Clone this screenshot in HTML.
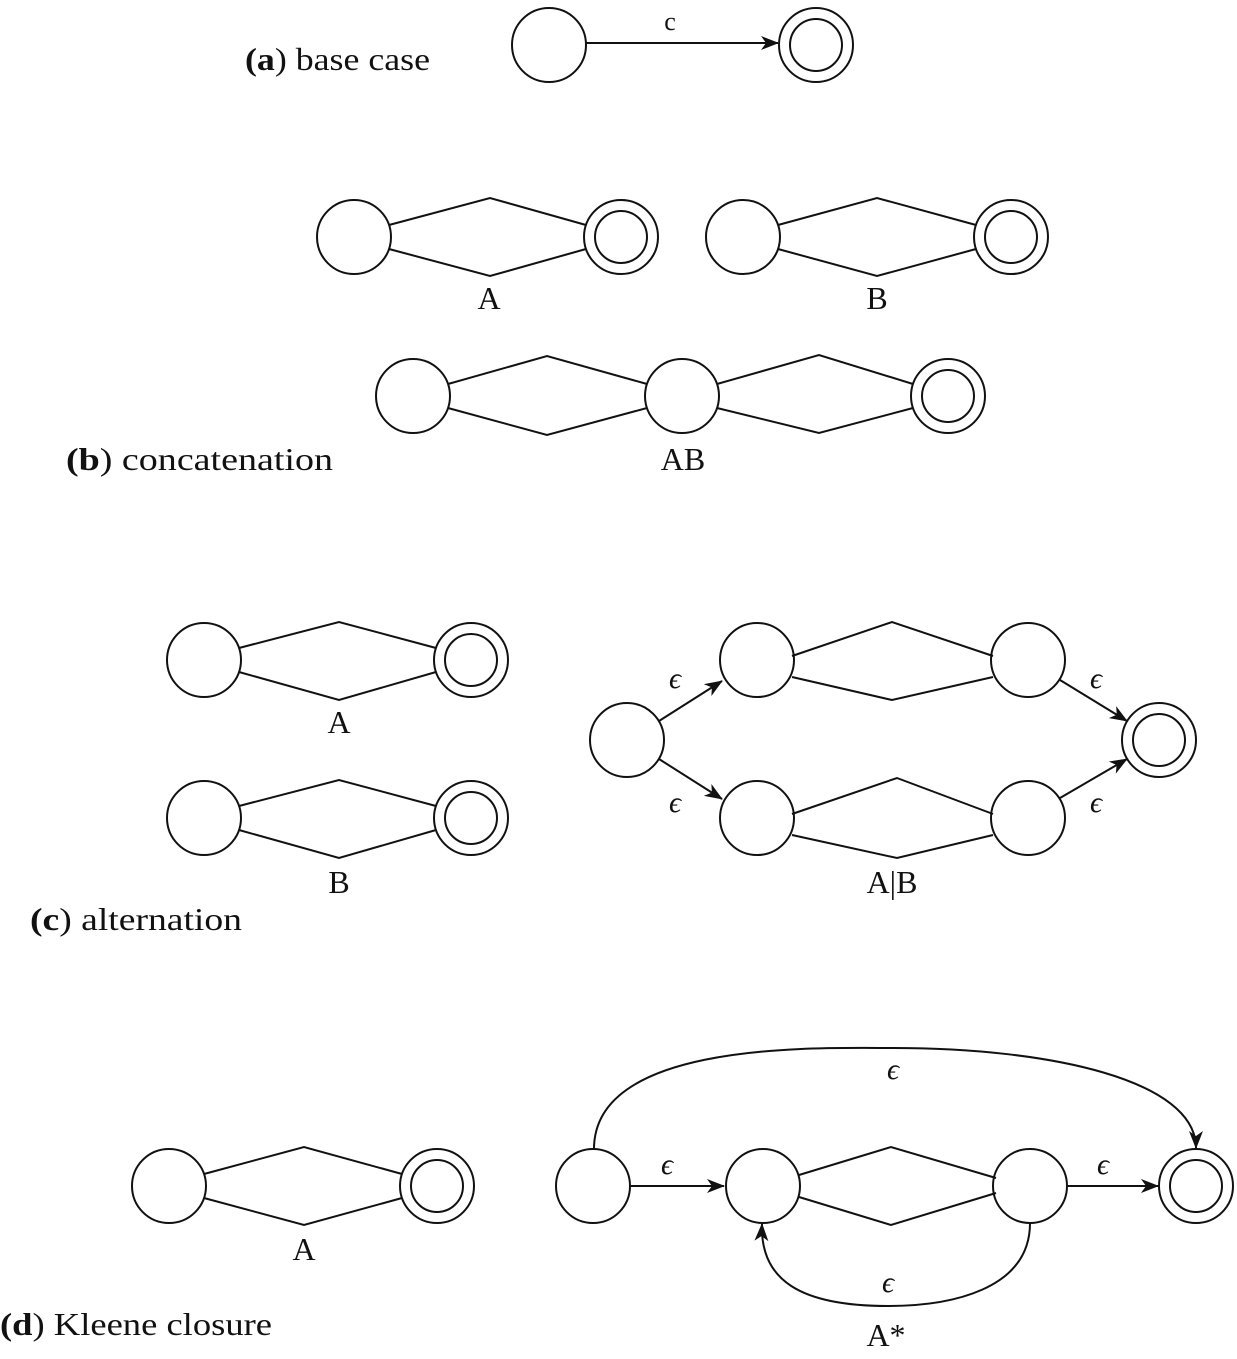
<!DOCTYPE html>
<html><head><meta charset="utf-8"><style>
body{margin:0;background:#fff}
text{font-family:"Liberation Serif",serif;fill:#111}
</style></head><body>
<svg width="1237" height="1354" viewBox="0 0 1237 1354" xmlns="http://www.w3.org/2000/svg">
<defs>
<marker id="ar" viewBox="0 0 18 14" refX="17" refY="7" markerWidth="18" markerHeight="14" markerUnits="userSpaceOnUse" orient="auto">
<path d="M0,0 L18,7 L0,14 L5,7 Z" fill="#111"/>
</marker>
</defs>
<g fill="none" stroke="#111" stroke-width="2">
<circle cx="549" cy="45" r="37"/>
<circle cx="816" cy="45" r="37"/><circle cx="816" cy="45" r="26"/>
<line x1="586" y1="43" x2="778" y2="43" marker-end="url(#ar)"/>
<circle cx="354" cy="237" r="37"/>
<circle cx="621" cy="237" r="37"/><circle cx="621" cy="237" r="26"/>
<polyline points="389,225 490,198 586,225"/><polyline points="389,249 490,276 586,249"/>
<circle cx="743" cy="237" r="37"/>
<circle cx="1011" cy="237" r="37"/><circle cx="1011" cy="237" r="26"/>
<polyline points="778,225 877,198 976,225"/><polyline points="778,249 877,276 976,249"/>
<circle cx="413" cy="396" r="37"/>
<circle cx="682" cy="396" r="37"/>
<circle cx="948" cy="396" r="37"/><circle cx="948" cy="396" r="26"/>
<polyline points="448,384 547,356 647,384"/><polyline points="448,408 547,435 647,408"/>
<polyline points="717,384 819,355 913,384"/><polyline points="717,408 819,433 913,408"/>
<circle cx="204" cy="660" r="37"/>
<circle cx="471" cy="660" r="37"/><circle cx="471" cy="660" r="26"/>
<polyline points="239,648 339,622 436,648"/><polyline points="239,672 339,700 436,672"/>
<circle cx="204" cy="818" r="37"/>
<circle cx="471" cy="818" r="37"/><circle cx="471" cy="818" r="26"/>
<polyline points="239,806 339,780 436,806"/><polyline points="239,830 339,858 436,830"/>
<circle cx="627" cy="740" r="37"/>
<circle cx="757" cy="660" r="37"/><circle cx="1028" cy="660" r="37"/>
<circle cx="757" cy="818" r="37"/><circle cx="1028" cy="818" r="37"/>
<circle cx="1159" cy="740" r="37"/><circle cx="1159" cy="740" r="26"/>
<polyline points="792,656 892,622 993,656"/><polyline points="792,677 892,700 993,677"/>
<polyline points="792,814 897,778 993,814"/><polyline points="792,835 897,858 993,835"/>
<line x1="659" y1="721" x2="722" y2="681" marker-end="url(#ar)"/>
<line x1="659" y1="759" x2="722" y2="799" marker-end="url(#ar)"/>
<line x1="1060" y1="680" x2="1127" y2="721" marker-end="url(#ar)"/>
<line x1="1060" y1="798" x2="1127" y2="759" marker-end="url(#ar)"/>
<circle cx="169" cy="1186" r="37"/>
<circle cx="437" cy="1186" r="37"/><circle cx="437" cy="1186" r="26"/>
<polyline points="204,1174 304,1147 402,1174"/><polyline points="204,1198 304,1225 402,1198"/>
<circle cx="593" cy="1186" r="37"/>
<circle cx="763" cy="1186" r="37"/>
<circle cx="1030" cy="1186" r="37"/>
<circle cx="1196" cy="1186" r="37"/><circle cx="1196" cy="1186" r="26"/>
<polyline points="799,1175 891,1147 996,1178"/><polyline points="799,1197 891,1225 996,1193"/>
<line x1="631" y1="1186" x2="724" y2="1186" marker-end="url(#ar)"/>
<line x1="1068" y1="1186" x2="1158" y2="1186" marker-end="url(#ar)"/>
<path d="M594,1149 C594,1040 820,1048 893,1048 C1050,1048 1196,1080 1196,1148" marker-end="url(#ar)"/>
<path d="M1030,1223 C1030,1290 950,1306 888,1306 C800,1306 760,1280 762,1224" marker-end="url(#ar)"/>
</g>
<g font-size="32">
<text x="245" y="70" textLength="185" lengthAdjust="spacingAndGlyphs"><tspan font-weight="bold">(a</tspan>) base case</text>
<text x="66" y="470" textLength="267" lengthAdjust="spacingAndGlyphs"><tspan font-weight="bold">(b</tspan>) concatenation</text>
<text x="30" y="930" textLength="212" lengthAdjust="spacingAndGlyphs"><tspan font-weight="bold">(c</tspan>) alternation</text>
<text x="0" y="1335" textLength="272" lengthAdjust="spacingAndGlyphs"><tspan font-weight="bold">(d</tspan>) Kleene closure</text>
<g text-anchor="middle">
<text x="489" y="309">A</text><text x="877" y="309">B</text>
<text x="683" y="470">AB</text>
<text x="339" y="733">A</text><text x="339" y="893">B</text>
<text x="892" y="893">A|B</text>
<text x="304" y="1260">A</text>
<text x="886" y="1346">A*</text>
</g>
</g>
<g font-size="30" text-anchor="middle" font-style="italic">
<text x="670" y="30" font-family="Liberation Sans" font-style="normal" font-size="26">c</text>
<text x="675" y="688">ϵ</text><text x="675" y="812">ϵ</text>
<text x="1096" y="688">ϵ</text><text x="1096" y="812">ϵ</text>
<text x="667" y="1174">ϵ</text><text x="1103" y="1174">ϵ</text>
<text x="893" y="1079">ϵ</text><text x="888" y="1292">ϵ</text>
</g>
</svg>
</body></html>
